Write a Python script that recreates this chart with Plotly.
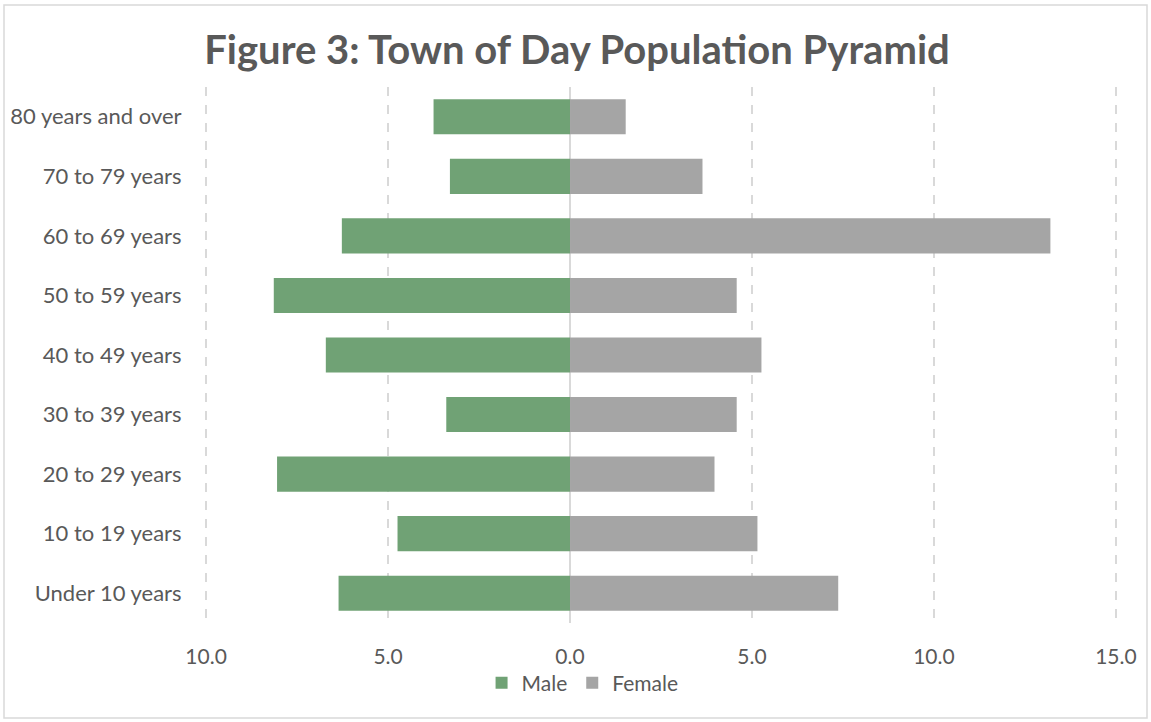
import plotly.graph_objects as go

categories = ["Under 10 years", "10 to 19 years", "20 to 29 years", "30 to 39 years",
              "40 to 49 years", "50 to 59 years", "60 to 69 years", "70 to 79 years",
              "80 years and over"]
male = [6.36, 4.74, 8.05, 3.40, 6.71, 8.14, 6.27, 3.30, 3.75]
female = [7.37, 5.15, 3.97, 4.58, 5.26, 4.58, 13.2, 3.64, 1.53]
tick_vals = [-10, -5, 0, 5, 10, 15]
tick_text = ["10.0", "5.0", "0.0", "5.0", "10.0", "15.0"]

FONT = "Lato"
TXT = "#595959"

fig = go.Figure()
fig.add_trace(go.Bar(y=categories, x=[-v for v in male], name="Male", orientation="h",
                     marker=dict(color="#70A275", line=dict(width=0))))
fig.add_trace(go.Bar(y=categories, x=female, name="Female", orientation="h",
                     marker=dict(color="#A5A5A5", line=dict(width=0))))

fig.update_layout(
    width=1151, height=722,
    barmode="relative", bargap=0.41,
    paper_bgcolor="white", plot_bgcolor="white",
    margin=dict(l=205, r=34, t=87, b=99, autoexpand=False),
    font=dict(family=FONT, color=TXT, size=20),
    title=dict(text="<b>Figure 3: Town of Day Population Pyramid</b>",
               x=(577 - 205) / 912, xref="paper", xanchor="center",
               y=1 - 50 / 722, yanchor="middle",
               font=dict(family=FONT, size=40, color=TXT)),
    legend=dict(orientation="h", x=0.414, xanchor="center", y=-0.112, yanchor="middle",
                font=dict(size=21, color=TXT), traceorder="normal",
                bgcolor="rgba(0,0,0,0)",
                itemsizing="constant", itemwidth=30),
    xaxis=dict(range=[-10.03, 15.03], tickvals=tick_vals, ticktext=tick_text,
               showgrid=True, gridcolor="#d9d9d9", griddash="dash", gridwidth=1.5,
               zeroline=True, zerolinecolor="#d9d9d9", zerolinewidth=2,
               ticks="outside", ticklen=15, tickcolor="rgba(0,0,0,0)",
               showline=False, automargin=False, tickfont=dict(size=21, color=TXT)),
    yaxis=dict(showgrid=False, zeroline=False, showline=False, automargin=False,
               ticks="outside", ticklen=18, tickcolor="rgba(0,0,0,0)",
               tickfont=dict(size=22, color=TXT)),
    shapes=[dict(type="rect", xref="paper", yref="paper",
                 x0=(4 - 205) / 912, x1=(1147 - 205) / 912,
                 y0=(623 - 718) / 536, y1=(623 - 5) / 536,
                 line=dict(color="#d9d9d9", width=1.5), fillcolor="rgba(0,0,0,0)",
                 layer="below")],
)

fig.write_html("out.html", config={"displayModeBar": False},
               post_script="document.body.style.margin='0';")
